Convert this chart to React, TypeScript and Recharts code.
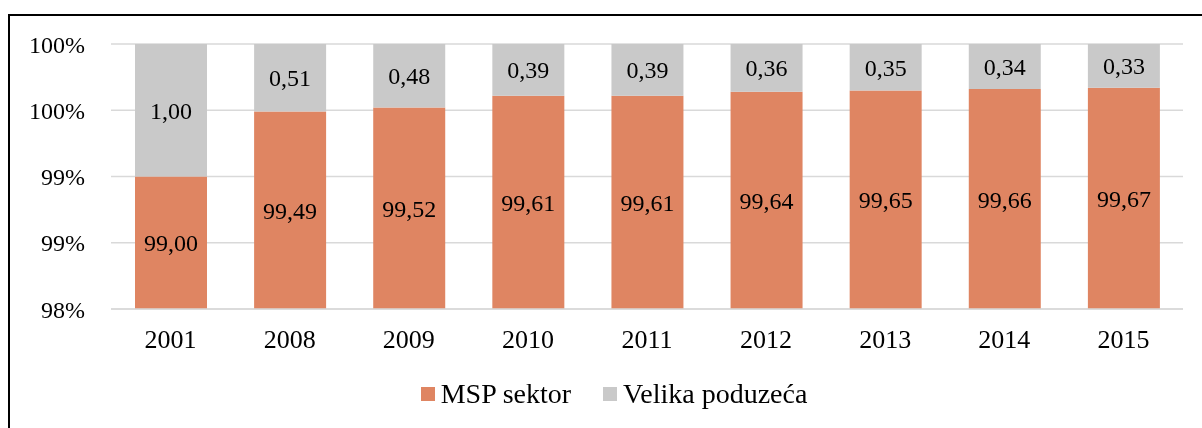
import React from 'react';
import { BarChart, Bar, XAxis, YAxis, CartesianGrid, LabelList } from 'recharts';

const years = ['2001', '2008', '2009', '2010', '2011', '2012', '2013', '2014', '2015'];
const mspValues = [99.0, 99.49, 99.52, 99.61, 99.61, 99.64, 99.65, 99.66, 99.67];
const largeValues = [1.0, 0.51, 0.48, 0.39, 0.39, 0.36, 0.35, 0.34, 0.33];
const yTicks = [98, 98.5, 99, 99.5, 100];
const seriesNames = ['MSP sektor', 'Velika poduzeća'];

const COLORS = ['#DF8562', '#C9C9C9'];
const FONT = "'Liberation Serif', 'DejaVu Serif', serif";
const Y_MIN = yTicks[0];
const Y_MAX = yTicks[yTicks.length - 1];

const data = years.map((year, i) => ({ year, msp: mspValues[i], large: largeValues[i] }));

const fmt = (v: any) => Number(v).toFixed(2).replace('.', ',');

const App: React.FC = () => {
  return (
    <div style={{ position: 'relative', width: 1194, height: 412, fontFamily: FONT }}>
      {/* outer frame, fixed so its right and bottom edges run off the page without scrollbars */}
      <div
        style={{
          position: 'fixed',
          left: 8,
          top: 14,
          width: 1240,
          height: 460,
          border: '2px solid #000',
          boxSizing: 'border-box',
          pointerEvents: 'none',
        }}
      />
      <div style={{ position: 'absolute', left: 0, top: 0 }}>
        <BarChart
          width={1194}
          height={412}
          data={data}
          margin={{ top: 36, right: 19, left: 0, bottom: 71 }}
          barSize={72}
          barGap={-72}
          style={{ fontFamily: FONT }}
        >
          <CartesianGrid vertical={false} stroke="#D9D9D9" strokeWidth={1.5} />
          <XAxis
            dataKey="year"
            height={40}
            axisLine={{ stroke: '#D9D9D9', strokeWidth: 1.5 }}
            tickLine={false}
            tickSize={0}
            tickMargin={21}
            tick={{ fill: '#000', fontSize: 26, fontFamily: FONT }}
          />
          <YAxis
            width={103}
            domain={[Y_MIN, Y_MAX]}
            ticks={yTicks}
            allowDataOverflow
            axisLine={false}
            tickLine={false}
            tickSize={0}
            tickMargin={26}
            tickFormatter={(v: number) => `${Math.round(v)}%`}
            tick={{ fill: '#000', fontSize: 24, fontFamily: FONT }}
          />
          <Bar
            dataKey={(d: any) => [Y_MIN, d.msp]}
            name={seriesNames[0]}
            fill={COLORS[0]}
            isAnimationActive={false}
          >
            <LabelList
              dataKey="msp"
              position="center"
              formatter={fmt}
              fill="#000"
              fontSize={24}
              fontFamily={FONT}
            />
          </Bar>
          <Bar
            dataKey={(d: any) => [d.msp, d.msp + d.large]}
            name={seriesNames[1]}
            fill={COLORS[1]}
            isAnimationActive={false}
          >
            <LabelList
              dataKey="large"
              position="center"
              formatter={fmt}
              fill="#000"
              fontSize={24}
              fontFamily={FONT}
            />
          </Bar>
        </BarChart>
      </div>
      {/* legend */}
      <div
        style={{
          position: 'absolute',
          left: 0,
          top: 370,
          width: 1212,
          display: 'flex',
          justifyContent: 'center',
          alignItems: 'center',
          fontSize: 28,
          color: '#000',
        }}
      >
        {seriesNames.map((name, i) => (
          <div key={name} style={{ display: 'flex', alignItems: 'center', marginLeft: i === 0 ? 0 : 32 }}>
            <span style={{ width: 14, height: 14, background: COLORS[i], marginRight: 6, display: 'inline-block' }} />
            <span>{name}</span>
          </div>
        ))}
      </div>
    </div>
  );
};

export default App;
